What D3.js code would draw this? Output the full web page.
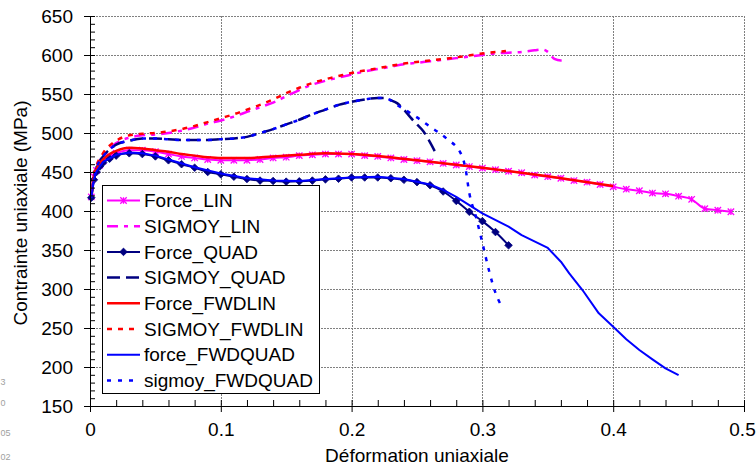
<!DOCTYPE html>
<html>
<head>
<meta charset="utf-8">
<script src="https://cdn.jsdelivr.net/npm/d3@7"></script>
<style>
  html, body { margin: 0; padding: 0; background: #fff; }
  svg { display: block; }
  text { font-family: "Liberation Sans", Arial, sans-serif; }
</style>
</head>
<body>
<svg id="chart" width="756" height="468"></svg>
<script>
// Strain (déformation) and stress (MPa) for each simulation series
const strainLIN = [0.001,0.003,0.005,0.0075,0.01,0.015,0.02,0.03,0.04,0.05,0.06,0.07,0.08,0.09,0.10,0.11,0.12,0.13,0.14,0.15,0.16,0.17,0.18,0.19,0.20,0.21,0.22,0.23,0.24,0.25,0.26,0.27,0.28,0.29,0.30,0.31,0.32,0.33,0.34,0.35,0.36,0.37,0.38,0.39,0.40,0.41,0.42,0.43,0.44,0.45,0.46,0.47,0.48,0.49];
const forceLIN = [418,444,452,459,464,470,474,478,478,476,473,470,468,466,465,465,465,466,468,469,471,472,473,473,473,471,470,468,466,464.5,463,461,459,457,455,453,451,449,446,444,442,439,437,434,431,428,426,423,422,419,415,403,401,399];

const strainSigLIN = [0.001,0.003,0.005,0.01,0.015,0.02,0.03,0.04,0.05,0.06,0.07,0.08,0.09,0.10,0.11,0.12,0.13,0.14,0.15,0.16,0.17,0.18,0.19,0.20,0.21,0.22,0.23,0.24,0.25,0.26,0.27,0.28,0.29,0.30,0.31,0.32,0.33,0.34,0.346,0.35,0.355,0.36,0.365];
const sigmoyLIN = [418,443,455,470,480,487,494,497,498,500,503,507,512,516,521,527,533,539,547,555,562,567,571,575,579,582,585,588,590,592,594,596,598,600,602,603,604,606,607,604,595,593,593];

const strainQUAD = [0.001,0.003,0.005,0.0075,0.01,0.015,0.02,0.03,0.04,0.05,0.06,0.07,0.08,0.09,0.10,0.11,0.12,0.13,0.14,0.15,0.16,0.17,0.18,0.19,0.20,0.21,0.22,0.23,0.24,0.25,0.26,0.27,0.28,0.29,0.30,0.31,0.32];
const forceQUAD = [417,440,450,457,462,467,471,474,473,470,465,460,455.5,450,447,444,441,439,438.5,437.6,438,439,440.6,441.4,443,443,443,442,440,437,433,425,413,399,387,373,356];

const strainSigQUAD = [0.001,0.003,0.005,0.01,0.015,0.02,0.03,0.04,0.05,0.06,0.07,0.08,0.09,0.10,0.11,0.12,0.13,0.14,0.15,0.16,0.17,0.18,0.19,0.20,0.21,0.22,0.225,0.23,0.235,0.24,0.245,0.25,0.255,0.26,0.265];
const sigmoyQUAD = [417,442,455,470,479,485,490,493,493,492,491,491,491,492,493,495,500,505,511,517,524,530,536,540,543,545,545,542,538,530,520,511,502,488,472];

const strainFWDLIN = [0.001,0.003,0.005,0.01,0.015,0.02,0.03,0.04,0.05,0.06,0.07,0.08,0.09,0.10,0.12,0.14,0.16,0.18,0.20,0.25,0.30,0.35,0.40];
const forceFWDLIN = [418,445,454,466,473,477,481,480,478,476,473,471,469,468,468,470,472,474,473,465,455.5,444.5,432];

const strainSigFWDLIN = [0.001,0.003,0.005,0.01,0.02,0.03,0.04,0.05,0.06,0.07,0.08,0.09,0.10,0.11,0.12,0.13,0.14,0.15,0.16,0.17,0.18,0.19,0.20,0.22,0.24,0.26,0.28,0.30,0.318];
const sigmoyFWDLIN = [418,446,458,474,490,497,499,500,502,505,509,514,519,524,530,536,543,551,558,564,569,573,577,583,589,593,597,602,605];

const strainFWDQUAD = [0.001,0.003,0.005,0.01,0.02,0.03,0.04,0.05,0.06,0.08,0.10,0.12,0.14,0.16,0.18,0.20,0.22,0.24,0.26,0.27,0.28,0.30,0.32,0.33,0.35,0.36,0.3664,0.3765,0.389,0.40,0.41,0.42,0.43,0.44,0.45];
const forceFWDQUAD = [418,441,451,463,472,475,474,471,466,456,448,442,439,438.5,441,443,444,441,434,427,418,397,380,369,352.6,335,320,298.7,268.8,251.7,235.5,221.8,209.8,198.3,189.7];

const strainSigFWDQUAD = [0.001,0.003,0.005,0.01,0.015,0.02,0.03,0.04,0.05,0.06,0.07,0.08,0.09,0.10,0.11,0.12,0.13,0.14,0.15,0.16,0.17,0.18,0.19,0.20,0.21,0.22,0.225,0.2366,0.25,0.26,0.2725,0.284,0.287,0.29,0.295,0.30,0.305,0.31,0.314];
const sigmoyFWDQUAD = [417,442,455,470,479,485,490,493,493,492,491,491,491,492,493,495,500,505,511,517,524,530,536,540,543,545,545,534,520,508,493,472,455,423,393,359,324,295,280];

const seriesNames = ["Force_LIN","SIGMOY_LIN","Force_QUAD","SIGMOY_QUAD","Force_FWDLIN","SIGMOY_FWDLIN","force_FWDQUAD","sigmoy_FWDQUAD"];

const xTicks = [0,0.1,0.2,0.3,0.4,0.5];
const xTickLabels = ["0","0.1","0.2","0.3","0.4","0.5"];
const yTicks = [150,200,250,300,350,400,450,500,550,600,650];
const xTitle = "Déformation uniaxiale";
const yTitle = "Contrainte uniaxiale (MPa)";
const edgeLabels = ["3","0","05","02"];

const series = [
  {name: seriesNames[0], xs: strainLIN,        ys: forceLIN,       color: "#ff00ff", width: 2,   dash: null,     marker: "cross"},
  {name: seriesNames[1], xs: strainSigLIN,     ys: sigmoyLIN,      color: "#ff00ff", width: 2.5, dash: "11,6,4,6", marker: null},
  {name: seriesNames[2], xs: strainQUAD,       ys: forceQUAD,      color: "#000080", width: 2,   dash: null,     marker: "diamond"},
  {name: seriesNames[3], xs: strainSigQUAD,    ys: sigmoyQUAD,     color: "#000080", width: 2.5, dash: "13,6",   marker: null},
  {name: seriesNames[4], xs: strainFWDLIN,     ys: forceFWDLIN,    color: "#ff0000", width: 2.5, dash: null,     marker: null},
  {name: seriesNames[5], xs: strainSigFWDLIN,  ys: sigmoyFWDLIN,   color: "#ff0000", width: 2.5, dash: "5,6",    marker: null},
  {name: seriesNames[6], xs: strainFWDQUAD,    ys: forceFWDQUAD,   color: "#0000ff", width: 2,   dash: null,     marker: null, linear: true},
  {name: seriesNames[7], xs: strainSigFWDQUAD, ys: sigmoyFWDQUAD,  color: "#0000ff", width: 2.5, dash: "4,7",    marker: null}
];

const svg = d3.select("#chart");
const x = d3.scaleLinear().domain([0, 0.5]).range([90, 744]);
const y = d3.scaleLinear().domain([150, 650]).range([406, 16]);

// Grid lines
const grid = svg.append("g").attr("stroke", "#808080").attr("stroke-width", 1).attr("stroke-dasharray", "2,1");
grid.selectAll(".gx").data(xTicks.slice(1)).enter().append("line")
  .attr("x1", d => Math.round(x(d)) + 0.5).attr("x2", d => Math.round(x(d)) + 0.5)
  .attr("y1", y(650)).attr("y2", y(150));
grid.selectAll(".gy").data(yTicks.slice(1)).enter().append("line")
  .attr("y1", d => Math.round(y(d)) + 0.5).attr("y2", d => Math.round(y(d)) + 0.5)
  .attr("x1", x(0)).attr("x2", x(0.5));

// Series
series.forEach(s => {
  const pts = s.xs.map((v, i) => [v, s.ys[i]]);
  const line = d3.line().x(d => x(d[0])).y(d => y(d[1]))
    .curve(s.linear ? d3.curveLinear : d3.curveMonotoneX);
  svg.append("path").datum(pts)
    .attr("fill", "none").attr("stroke", s.color).attr("stroke-width", s.width)
    .attr("stroke-dasharray", s.dash).attr("stroke-linejoin", "round")
    .attr("d", line);
  if (s.marker) drawMarkers(svg, pts.map(d => [x(d[0]), y(d[1])]), s);
});

function drawMarkers(g, pts, s) {
  const m = g.append("g");
  pts.forEach(p => {
    if (s.marker === "cross") {
      const r = 3.2;
      m.append("path")
        .attr("d", `M${p[0]-r},${p[1]-r}L${p[0]+r},${p[1]+r}M${p[0]-r},${p[1]+r}L${p[0]+r},${p[1]-r}M${p[0]},${p[1]-r}L${p[0]},${p[1]+r}`)
        .attr("stroke", s.color).attr("stroke-width", 1.3).attr("fill", "none");
    } else if (s.marker === "diamond") {
      const r = 3.8;
      m.append("path")
        .attr("d", `M${p[0]},${p[1]-r}L${p[0]+r},${p[1]}L${p[0]},${p[1]+r}L${p[0]-r},${p[1]}Z`)
        .attr("fill", s.color).attr("stroke", s.color).attr("stroke-width", 0.8);
    }
  });
}

// Axes
const fontSize = "19px";
const xAxis = svg.append("g").attr("transform", `translate(0,${y(150)})`)
  .call(d3.axisBottom(x).tickValues(xTicks).tickFormat((d, i) => xTickLabels[i])
    .tickSizeInner(6).tickSizeOuter(0).tickPadding(11));
// keep the last tick label inside the page
xAxis.selectAll(".tick text").filter(d => d === 0.5).attr("dx", "-2");
const xMinor = svg.append("g").attr("transform", `translate(0,${y(150)})`)
  .call(d3.axisTop(x).tickValues(d3.range(0, 0.5001, 0.02)).tickFormat("").tickSizeInner(6).tickSizeOuter(0));
const yAxis = svg.append("g").attr("transform", `translate(${x(0)},0)`)
  .call(d3.axisLeft(y).tickValues(yTicks).tickSizeInner(6).tickSizeOuter(0).tickPadding(11));
const yMinor = svg.append("g").attr("transform", `translate(${x(0)},0)`)
  .call(d3.axisRight(y).tickValues(d3.range(150, 650.1, 10)).tickFormat("").tickSizeInner(5).tickSizeOuter(0));

[xAxis, xMinor, yAxis, yMinor].forEach(a => {
  a.selectAll("path, line").attr("stroke", "#000").attr("stroke-width", 1);
  a.selectAll("text").attr("fill", "#000").style("font-size", fontSize)
    .style("font-family", '"Liberation Sans", Arial, sans-serif');
});

// Axis titles
svg.append("text").attr("x", x(0.25)).attr("y", 462).attr("text-anchor", "middle")
  .style("font-size", fontSize).text(xTitle);
svg.append("text").attr("transform", `translate(27,${y(400) + 2}) rotate(-90)`).attr("text-anchor", "middle")
  .style("font-size", fontSize).text(yTitle);

// Faint labels at the left edge
svg.selectAll(".edge").data(edgeLabels).enter().append("text")
  .attr("x", 0.5).attr("y", (d, i) => [385, 406, 436, 460][i]).attr("text-anchor", "start")
  .attr("fill", "#a0a0a0").style("font-size", "9px").text(d => d);

// Legend
const lg = svg.append("g");
lg.append("rect").attr("x", 102.5).attr("y", 185.5).attr("width", 217).attr("height", 208)
  .attr("fill", "#fff").attr("stroke", "#000").attr("stroke-width", 1);
series.forEach((s, i) => {
  const cy = 200.5 + i * 25.7;
  lg.append("line").attr("x1", 107).attr("x2", 140).attr("y1", cy).attr("y2", cy)
    .attr("stroke", s.color).attr("stroke-width", s.width).attr("stroke-dasharray", s.dash);
  if (s.marker) drawMarkers(lg, [[123.5, cy]], s);
  lg.append("text").attr("x", 144).attr("y", cy).attr("dy", "0.35em")
    .style("font-size", fontSize).text(s.name);
});
</script>
</body>
</html>
